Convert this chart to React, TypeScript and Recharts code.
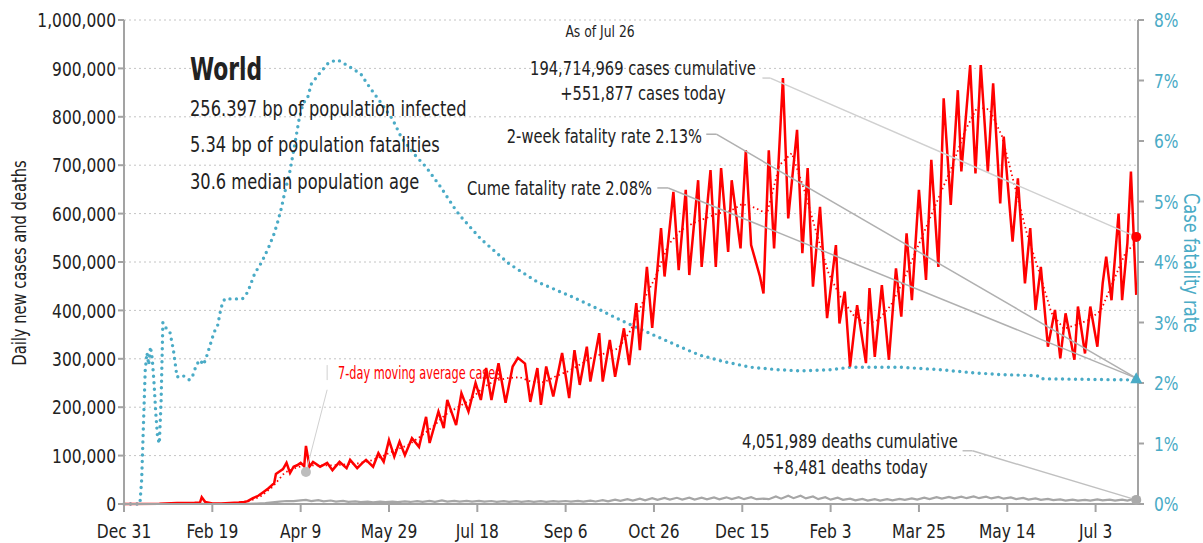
import React from 'react';
import {
  ComposedChart, Line, XAxis, YAxis, CartesianGrid, ReferenceLine, ReferenceDot,
} from 'recharts';

const FONT = "'DejaVu Sans Condensed', 'Liberation Sans', sans-serif";
const SQ = 0.86; // horizontal squeeze to mimic a condensed face

// x axis: days since Dec 31 2019
const tickDays = [0, 50, 100, 150, 200, 250, 300, 350, 400, 450, 500, 550];
const tickLabels = ['Dec 31', 'Feb 19', 'Apr 9', 'May 29', 'Jul 18', 'Sep 6', 'Oct 26', 'Dec 15', 'Feb 3', 'Mar 25', 'May 14', 'Jul 3'];

// daily new cases, thousands  [day, value]
const casesSpring2020 = [
  [0, 0], [20, 0.5], [30, 2], [40, 2.5], [43, 3], [44, 14], [46, 4], [50, 1], [55, 1], [60, 2], [65, 3],
  [68, 4], [70, 6], [73, 12], [76, 17], [79, 25], [82, 33], [85, 43], [86, 62], [88, 67], [90, 72],
  [92, 85], [94, 64], [96, 77], [98, 80], [100, 85], [102, 78], [103, 120], [105, 77], [107, 87],
  [109, 82], [111, 77], [115, 85], [118, 70], [122, 87], [126, 74], [128, 91], [132, 74], [135, 85],
  [137, 91], [141, 77], [144, 105], [147, 87],
];
const casesSummer2020 = [
  [150, 132], [153, 98], [156, 129], [159, 101], [163, 136], [167, 118], [171, 180], [173, 126],
  [178, 191], [181, 157], [183, 215], [188, 163], [191, 229], [195, 191], [199, 250], [202, 215],
  [205, 281], [208, 215], [212, 291], [216, 209], [220, 284], [223, 302], [227, 290], [230, 211],
  [234, 281], [236, 205], [239, 284], [243, 222], [248, 312], [252, 219], [255, 318], [258, 246],
  [262, 325], [264, 253], [269, 353], [271, 253], [275, 339], [278, 263], [283, 363], [286, 287],
  [290, 415], [292, 318], [296, 490], [299, 364],
];
const casesWinter2021 = [
  [304, 570], [306, 470], [311, 645], [314, 483], [318, 649], [320, 473], [325, 669], [327, 490],
  [332, 690], [335, 490], [338, 694], [342, 521], [344, 669], [349, 528], [352, 731], [355, 535],
  [360, 470], [362, 435], [365, 731], [368, 528], [373, 880], [376, 590], [381, 773], [384, 518],
  [387, 694], [390, 449], [394, 614], [398, 384], [403, 535], [405, 373], [408, 439], [411, 284],
  [415, 411], [420, 291], [422, 446], [425, 304], [429, 452], [433, 298], [437, 487],
];
const casesSpring2021 = [
  [440, 387], [443, 559], [446, 421], [450, 649], [454, 463], [457, 711], [461, 490], [464, 838],
  [468, 618], [472, 855], [474, 687], [479, 907], [482, 683], [485, 907], [489, 687], [492, 869],
  [496, 621], [498, 759], [503, 542], [506, 673], [510, 456], [513, 570], [516, 401], [519, 490],
  [523, 325], [527, 401], [530, 301], [533, 394], [538, 298], [540, 408], [544, 311], [547, 408],
  [551, 325], [554, 456], [556, 511], [559, 421], [563, 600], [565, 421], [568, 539], [570, 687],
  [573, 432],
];

// 7-day moving average cases, thousands
const movingAvg = [
  [60, 1], [70, 5], [77, 15], [84, 35], [91, 65], [98, 76], [105, 80], [112, 80], [119, 80],
  [126, 82], [133, 84], [140, 90], [147, 100], [154, 112], [161, 122], [168, 140], [175, 160],
  [182, 185], [189, 200], [196, 215], [203, 240], [210, 255], [217, 260], [224, 262], [231, 252],
  [238, 252], [245, 265], [252, 275], [259, 290], [266, 305], [273, 312], [280, 322], [287, 360],
  [294, 420], [301, 470], [308, 535], [315, 565], [322, 580], [329, 590], [336, 600], [343, 605],
  [350, 620], [357, 612], [364, 600], [371, 700], [378, 725], [385, 650], [392, 560], [399, 475],
  [406, 425], [413, 390], [420, 372], [427, 380], [434, 410], [441, 460], [448, 520], [455, 580],
  [462, 640], [469, 700], [476, 770], [483, 820], [490, 815], [497, 760], [504, 660], [511, 560],
  [518, 480], [525, 395], [532, 362], [539, 370], [546, 380], [553, 400], [560, 460], [567, 520],
  [573, 540],
];

// daily new deaths, thousands
const deaths2020 = [
  [0, 0], [20, 0.05], [40, 0.1], [44, 0.25], [50, 0.05], [60, 0.1], [70, 0.3], [75, 0.8], [80, 2],
  [84, 3.5], [88, 5], [92, 6.2], [96, 6], [100, 7.5], [103, 8.4], [106, 6], [110, 8], [113, 5.5],
  [117, 7.2], [120, 5], [124, 6.5], [127, 4.3], [131, 5.5], [134, 4], [138, 5], [141, 3.5], [145, 5],
  [148, 3.8], [152, 5], [155, 4], [159, 5.5], [162, 4.2], [166, 6], [169, 4.5], [173, 6.5], [176, 4.6],
  [180, 7.5], [183, 5], [187, 6.5], [190, 5], [194, 6.3], [197, 4.8], [201, 6.4], [204, 4.8], [208, 6.2],
  [211, 4.5], [215, 6], [218, 4.3], [222, 6], [225, 4.3], [229, 5.8], [232, 4.5], [236, 6], [239, 4.5],
  [243, 6], [246, 4.8], [250, 6.2], [253, 4.8], [257, 6.4], [260, 5], [264, 7], [267, 5.2], [271, 7.8],
  [274, 5.5], [278, 9], [281, 6.5], [285, 10], [288, 7.2], [292, 11], [295, 7.5], [299, 12], [302, 8.5],
  [306, 12.5], [309, 9], [313, 12.8], [316, 9], [320, 13], [323, 9], [327, 13], [330, 9.5], [334, 13.5],
  [337, 9.8], [341, 13.8], [344, 10], [348, 14], [351, 10], [355, 14], [358, 10], [362, 11], [365, 10],
];
const deaths2021 = [
  [369, 15.5], [372, 11], [376, 17], [379, 12], [383, 17], [386, 11.5], [390, 15.5], [393, 10],
  [397, 14], [400, 9], [404, 13], [407, 8.5], [411, 11], [414, 7.5], [418, 10.5], [421, 7], [425, 10],
  [428, 7.2], [432, 10], [435, 7.5], [439, 10.5], [442, 8.5], [446, 11.5], [449, 9], [453, 13],
  [456, 10], [460, 14], [463, 11], [467, 14.5], [470, 11.5], [474, 15], [477, 12], [481, 15.5],
  [484, 12], [488, 15], [491, 11.5], [495, 14.5], [498, 11], [502, 13.5], [505, 10], [509, 12.5],
  [512, 9], [516, 11.5], [519, 8.5], [523, 10.5], [526, 8], [530, 9.5], [533, 7], [537, 9], [540, 7],
  [544, 8.5], [547, 7], [551, 9.5], [554, 7.5], [558, 9], [561, 7], [565, 9], [568, 7], [571, 10],
  [573, 8.5],
];

// case fatality rate, percent
const fatalityRate = [
  [0, 0], [5, 0], [9, 0], [10, 0.4], [11, 1.3], [12, 2.2], [13, 2.5], [14, 2.3], [15, 2.6], [16, 2.4],
  [17, 2.0], [18, 1.5], [19, 1.1], [20, 1.0], [21, 1.7], [22, 3.0], [24, 2.9], [26, 2.84], [28, 2.54],
  [30, 2.1], [33, 2.13], [37, 2.05], [39, 2.13], [41, 2.3], [43, 2.38], [45, 2.3], [47, 2.46],
  [51, 2.84], [53, 2.95], [55, 3.25], [57, 3.39], [67, 3.39], [70, 3.5], [74, 3.81], [78, 4.0],
  [82, 4.25], [85, 4.47], [87, 4.66], [89, 4.88], [91, 5.15], [94, 5.51], [97, 6.0], [99, 6.34],
  [101, 6.58], [103, 6.7], [104, 6.72], [106, 6.94], [111, 7.13], [116, 7.3], [121, 7.34], [127, 7.24],
  [134, 7.11], [139, 6.89], [146, 6.61], [152, 6.36], [157, 6.06], [164, 5.79], [171, 5.57],
  [179, 5.25], [188, 4.85], [191, 4.74], [202, 4.38], [218, 3.97], [234, 3.67], [254, 3.42],
  [268, 3.23], [281, 3.04], [300, 2.79], [317, 2.57], [326, 2.46], [340, 2.35], [355, 2.26],
  [370, 2.22], [383, 2.2], [400, 2.22], [411, 2.26], [440, 2.26], [462, 2.22], [480, 2.17],
  [496, 2.14], [517, 2.12], [519, 2.07], [545, 2.06], [573, 2.05],
];

const lastDay = 573;
const casesToday = 551877;
const deathsToday = 8481;
const cumeRate = 2.08;

function buildRows() {
  const rows = new Map<number, any>();
  const put = (list: number[][], key: string, scale: number) => {
    list.forEach(([d, v]) => {
      if (!rows.has(d)) rows.set(d, { day: d });
      rows.get(d)[key] = v * scale;
    });
  };
  put([...casesSpring2020, ...casesSummer2020, ...casesWinter2021, ...casesSpring2021], 'cases', 1000);
  put(movingAvg, 'avg', 1000);
  put([...deaths2020, ...deaths2021], 'deaths', 1000);
  put(fatalityRate, 'cfr', 1);
  return [...rows.values()].sort((a, b) => a.day - b.day);
}

const rows = buildRows();
const leftTicks = [0, 100000, 200000, 300000, 400000, 500000, 600000, 700000, 800000, 900000, 1000000];
const rightTicks = [0, 1, 2, 3, 4, 5, 6, 7, 8];
const TEAL = '#4aabc6';
const AXIS = '#a3a3a3';

const Triangle = (p: any) => (
  <path d={`M${p.cx - 6},${p.cy + 5} L${p.cx + 6},${p.cy + 5} L${p.cx},${p.cy - 6} Z`} fill={TEAL} />
);

// squeezed tick text
const makeTick = (fmt: (v: number) => string, anchor: string, fill: string, dx: number, dy: number, base: string) =>
  (p: any) => (
    <text
      transform={`translate(${p.x + dx},${p.y + dy}) scale(${SQ},1)`}
      textAnchor={anchor} dy={base} fill={fill} fontSize={20} fontFamily={FONT}
    >
      {fmt(p.payload.value)}
    </text>
  );

const xTick = makeTick((d) => tickLabels[tickDays.indexOf(d)], 'middle', '#222', 0, 10, '0.71em');
const leftTick = makeTick((v) => v.toLocaleString('en-US'), 'end', '#222', 0, 0, '0.355em');
const rightTick = makeTick((v) => `${v}%`, 'start', TEAL, 8, 0, '0.355em');

function T(props: any) {
  const { x, y, s = SQ, children, ...rest } = props;
  return (
    <text transform={`translate(${x},${y}) scale(${s},1)`} fontFamily={FONT} fill="#222" {...rest}>
      {children}
    </text>
  );
}

export default function App() {
  return (
    <div style={{ position: 'absolute', left: 0, top: 0, width: 1203, height: 543, background: '#fff' }}>
      <ComposedChart width={1203} height={543} data={rows} margin={{ top: 20, right: 0, bottom: 0, left: 0 }}>
        <CartesianGrid yAxisId="left" vertical={false} stroke="#c4c4c4" strokeDasharray="2 3" />
        <XAxis
          dataKey="day" type="number" domain={[0, 574]} ticks={tickDays} height={39}
          stroke={AXIS} strokeWidth={2} tickSize={8} tick={xTick}
        />
        <YAxis
          yAxisId="left" domain={[0, 1000000]} ticks={leftTicks} width={124}
          stroke={AXIS} strokeWidth={2} tickSize={6} tick={leftTick}
        />
        <YAxis
          yAxisId="right" orientation="right" domain={[0, 8]} ticks={rightTicks} width={65}
          stroke={AXIS} strokeWidth={2} tickSize={6} tick={rightTick}
        />
        <Line yAxisId="right" dataKey="cfr" stroke={TEAL} strokeWidth={3.4} strokeDasharray="0 6.5"
          strokeLinecap="round" dot={false} connectNulls isAnimationActive={false} />
        <Line yAxisId="left" dataKey="deaths" stroke="#a6a6a6" strokeWidth={2.2} dot={false}
          connectNulls isAnimationActive={false} />
        <Line yAxisId="left" dataKey="avg" stroke="#ff0000" strokeWidth={1.8} strokeDasharray="1.5 3"
          dot={false} connectNulls isAnimationActive={false} />
        <Line yAxisId="left" dataKey="cases" stroke="#ff0000" strokeWidth={2.5} dot={false}
          connectNulls isAnimationActive={false} />

        <ReferenceLine yAxisId="left" stroke="#d0d0d0" strokeWidth={1.5} ifOverflow="visible"
          segment={[{ x: 361.4, y: 880000 }, { x: 365.9, y: 880000 }]} />
        <ReferenceLine yAxisId="left" stroke="#d0d0d0" strokeWidth={1.5} ifOverflow="visible"
          segment={[{ x: 365.9, y: 880000 }, { x: lastDay, y: casesToday }]} />
        <ReferenceLine yAxisId="left" stroke="#b0b0b0" strokeWidth={1.5} ifOverflow="visible"
          segment={[{ x: 329.6, y: 764000 }, { x: 335.3, y: 764000 }]} />
        <ReferenceLine yAxisId="left" stroke="#b0b0b0" strokeWidth={1.5} ifOverflow="visible"
          segment={[{ x: 335.3, y: 764000 }, { x: lastDay, y: (cumeRate / 8) * 1000000 }]} />
        <ReferenceLine yAxisId="left" stroke="#b0b0b0" strokeWidth={1.5} ifOverflow="visible"
          segment={[{ x: 301.9, y: 653000 }, { x: 308.1, y: 653000 }]} />
        <ReferenceLine yAxisId="left" stroke="#b0b0b0" strokeWidth={1.5} ifOverflow="visible"
          segment={[{ x: 308.1, y: 653000 }, { x: lastDay, y: (cumeRate / 8) * 1000000 }]} />
        <ReferenceLine yAxisId="left" stroke="#c0c0c0" strokeWidth={1.5} ifOverflow="visible"
          segment={[{ x: 474.7, y: 110000 }, { x: 480.3, y: 110000 }]} />
        <ReferenceLine yAxisId="left" stroke="#c0c0c0" strokeWidth={1.5} ifOverflow="visible"
          segment={[{ x: 480.3, y: 110000 }, { x: lastDay, y: deathsToday }]} />
        <ReferenceLine yAxisId="left" stroke="#d0d0d0" strokeWidth={1} ifOverflow="visible"
          segment={[{ x: 115, y: 236000 }, { x: 103, y: 66000 }]} />
        <ReferenceLine yAxisId="left" stroke="#d0d0d0" strokeWidth={1} ifOverflow="visible"
          segment={[{ x: 115, y: 287000 }, { x: 115, y: 256000 }]} />

        <ReferenceDot yAxisId="left" x={103} y={66000} r={5} fill="#bdbdbd" stroke="none" ifOverflow="visible" />
        <ReferenceDot yAxisId="left" x={lastDay} y={casesToday} r={5} fill="#ff0000" stroke="none" ifOverflow="visible" />
        <ReferenceDot yAxisId="left" x={lastDay} y={deathsToday} r={5} fill="#aaaaaa" stroke="none" ifOverflow="visible" />
        <ReferenceDot yAxisId="right" x={lastDay} y={cumeRate} r={6} shape={Triangle} ifOverflow="visible" />
      </ComposedChart>

      <svg width={1203} height={543} style={{ position: 'absolute', left: 0, top: 0, pointerEvents: 'none' }}>
        <T x={190} y={80} s={0.76} fontSize={32} fontWeight="bold">World</T>
        <T x={190} y={116} fontSize={21}>256.397 bp of population infected</T>
        <T x={190} y={152} fontSize={21}>5.34 bp of population fatalities</T>
        <T x={190} y={189} fontSize={21}>30.6 median population age</T>
        <T x={600} y={37} fontSize={16} textAnchor="middle">As of Jul 26</T>
        <T x={643} y={75} fontSize={19} textAnchor="middle">194,714,969 cases cumulative</T>
        <T x={643} y={100} fontSize={19} textAnchor="middle">+551,877 cases today</T>
        <T x={702} y={143} fontSize={19} textAnchor="end">2-week fatality rate 2.13%</T>
        <T x={652} y={195} fontSize={19} textAnchor="end">Cume fatality rate 2.08%</T>
        <T x={850} y={448} fontSize={19} textAnchor="middle">4,051,989 deaths cumulative</T>
        <T x={850} y={474} fontSize={19} textAnchor="middle">+8,481 deaths today</T>
        <T x={338} y={379} s={0.74} fontSize={17} fill="#ff0000">7-day moving average cases</T>
        <text transform={`translate(26,263) rotate(-90) scale(${SQ},1)`} fontSize={19} textAnchor="middle"
          fontFamily={FONT} fill="#222">
          Daily new cases and deaths
        </text>
        <text transform={`translate(1184,263) rotate(90) scale(${SQ},1)`} fontSize={21} textAnchor="middle"
          fontFamily={FONT} fill={TEAL}>Case fatality rate</text>
      </svg>
    </div>
  );
}
